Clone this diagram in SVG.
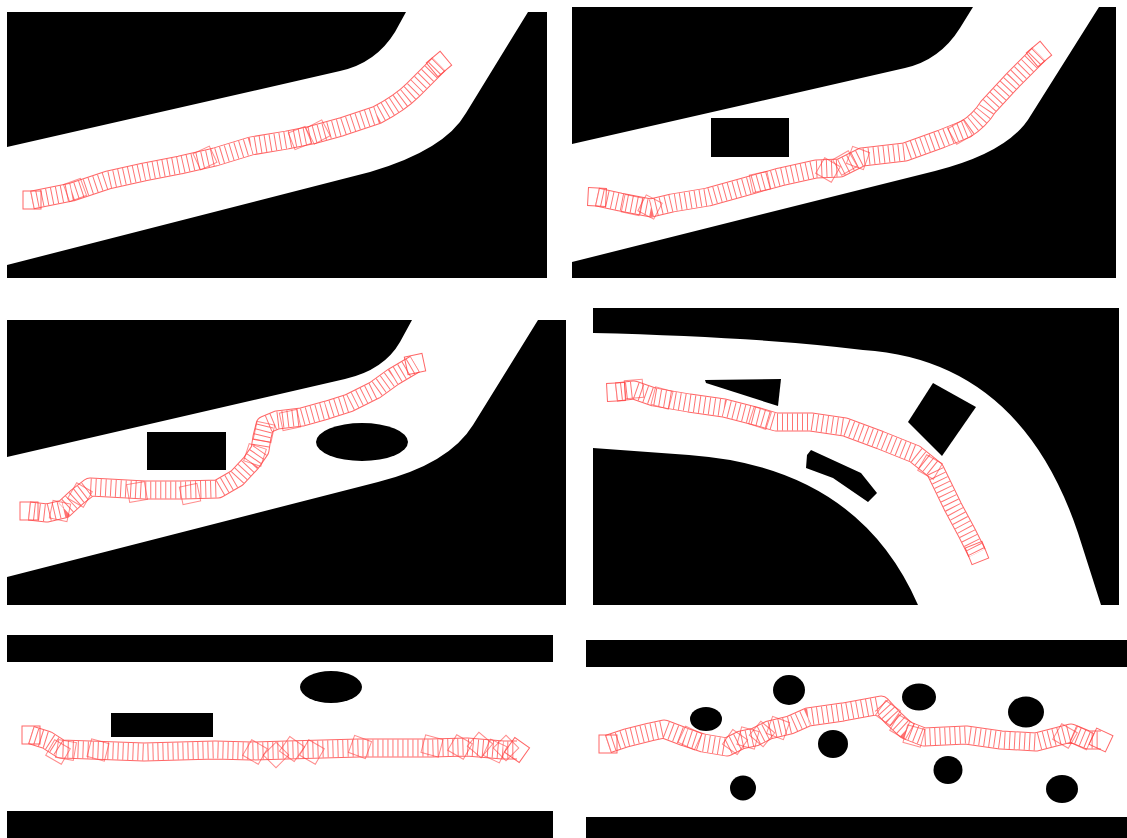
<svg xmlns="http://www.w3.org/2000/svg" width="1127" height="838" viewBox="0 0 1127 838">
<style>
.bg{fill:#000}
.road{fill:#fff}
.ce{fill:none;stroke:#ff4040;stroke-width:19;stroke-linejoin:round;stroke-opacity:0.8}
.ci{fill:none;stroke:#fff;stroke-width:17;stroke-linejoin:round}
.cr{fill:none;stroke:#ff5050;stroke-width:17;stroke-dasharray:1 4;stroke-opacity:0.8}
.sq{fill:none;stroke:#ff4040;stroke-width:1;stroke-opacity:0.8}
.jq{fill:none;stroke:#ff4040;stroke-width:1;stroke-opacity:0.6}
</style>
<defs>
<path id="p1" d="M32,200 L72,192 L108,180 L144,172 L180,165 L215,157 L251,146 L287,140 L312,135 L341,127 L377,115 Q400,103 413,90 L439,64"/>
<path id="p2" d="M597,197 L620,202 L651,208 L672,203 L708,197 L744,187 L780,177 L816,169 L840,168 L862,157 L905,152 L941,139 L966,129 Q980,120 988,107 L1013,80 L1039,54"/>
<path id="p3" d="M29,511 L47,513 L64,509 L77,497 L90,487 L109,488 L145,490 L182,490 L218,489 L237,478 L251,463 L260,450 L262,437 L265,425 L277,420 L302,417 L327,410 L349,403 L375,390 L393,377 L415,364"/>
<path id="p4" d="M616,392 L634,390 L654,397 L689,403 L724,408 L759,417 L776,422 L811,422 L845,427 L880,440 L915,454 L935,470 L953,507 L967,533 L977,553"/>
<path id="p5" d="M31,735 L47,740 L61,749 L90,750 L144,752 L215,750 L251,751 L287,750 L359,748 L395,748 L431,748 L467,747 L503,750 L517,750"/>
<path id="p6" d="M608,744 L626,738 L650,732 L664,729 L685,737 L703,743 L727,747 L741,740 L755,737 L769,730 L790,725 L808,717 L843,712 L881,705 L892,717 L906,730 L924,737 L966,735 L1001,740 L1036,742 L1071,733 L1088,740 L1101,740"/>
<rect id="s" x="-9" y="-9" width="18" height="18"/>
</defs>
<rect width="1127" height="838" fill="#fff"/>

<g id="panel1">
<rect class="bg" x="7" y="12" width="540" height="266"/>
<path class="road" d="M7,147 L340,71 Q376,63 395,32 L406,12 L528,12 L466,113 Q445,150 370,172 L7,265 Z"/>
<g id="chain1">
<use href="#p1" class="ce"/><use href="#p1" class="ci"/><use href="#p1" class="cr"/>
<use href="#s" class="sq" transform="translate(32,200)"/>
<use href="#s" class="sq" transform="translate(439,64) rotate(-40)"/>
<use href="#s" class="jq" transform="translate(75,190) rotate(-20)"/>
<use href="#s" class="jq" transform="translate(205,158) rotate(-25)"/>
<use href="#s" class="jq" transform="translate(300,138) rotate(-22)"/>
<use href="#s" class="jq" transform="translate(318,132) rotate(-28)"/>
</g>
</g>

<g id="panel2">
<rect class="bg" x="572" y="7" width="544" height="271"/>
<path class="road" d="M572,144 L905,68 Q940,60 960,28 L973,7 L1099,7 L1031,115 Q1010,152 935,171 L572,262 Z"/>
<rect class="bg" x="711" y="118" width="78" height="39"/>
<g id="chain2">
<use href="#p2" class="ce"/><use href="#p2" class="ci"/><use href="#p2" class="cr"/>
<use href="#s" class="sq" transform="translate(597,197) rotate(3)"/>
<use href="#s" class="sq" transform="translate(1039,54) rotate(-40)"/>
<use href="#s" class="jq" transform="translate(632,205) rotate(12)"/>
<use href="#s" class="jq" transform="translate(650,207) rotate(28)"/>
<use href="#s" class="jq" transform="translate(760,182) rotate(-12)"/>
<use href="#s" class="jq" transform="translate(828,170) rotate(30)"/>
<use href="#s" class="jq" transform="translate(845,163) rotate(-30)"/>
<use href="#s" class="jq" transform="translate(858,158) rotate(20)"/>
<use href="#s" class="jq" transform="translate(960,132) rotate(-30)"/>
</g>
</g>

<g id="panel3">
<rect class="bg" x="7" y="320" width="559" height="285"/>
<path class="road" d="M7,457 L345,379 Q384,370 400,342 L412,320 L538,320 L473,425 Q449,464 378,482 L7,577 Z"/>
<rect class="bg" x="147" y="432" width="79" height="38"/>
<ellipse class="bg" cx="362" cy="442" rx="46" ry="19"/>
<g id="chain3">
<use href="#p3" class="ce"/><use href="#p3" class="ci"/><use href="#p3" class="cr"/>
<use href="#s" class="sq" transform="translate(29,511)"/>
<use href="#s" class="sq" transform="translate(415,364) rotate(-12)"/>
<use href="#s" class="jq" transform="translate(60,511) rotate(12)"/>
<use href="#s" class="jq" transform="translate(80,495) rotate(30)"/>
<use href="#s" class="jq" transform="translate(137,492) rotate(-10)"/>
<use href="#s" class="jq" transform="translate(190,494) rotate(-12)"/>
<use href="#s" class="jq" transform="translate(255,455) rotate(18)"/>
<use href="#s" class="jq" transform="translate(264,432) rotate(12)"/>
<use href="#s" class="jq" transform="translate(290,420) rotate(-12)"/>
</g>
</g>

<g id="panel4">
<rect class="bg" x="593" y="308" width="526" height="297"/>
<path class="road" d="M593,333 Q760,337 863,350 Q1020,360 1078,533 L1101,605 L918,605 Q858,467 689,455 L593,448 Z"/>
<polygon class="bg" points="705,380 781,379 778,406 706,383"/>
<polygon class="bg" points="933,383 976,407 942,456 908,422"/>
<polygon class="bg" points="811,450 861,473 877,493 868,502 833,478 806,468 807,455"/>
<g id="chain4">
<use href="#p4" class="ce"/><use href="#p4" class="ci"/><use href="#p4" class="cr"/>
<use href="#s" class="sq" transform="translate(616,392) rotate(-3)"/>
<use href="#s" class="sq" transform="translate(977,553) rotate(-22)"/>
<use href="#s" class="jq" transform="translate(634,389) rotate(-5)"/>
<use href="#s" class="jq" transform="translate(662,398) rotate(15)"/>
<use href="#s" class="jq" transform="translate(760,418) rotate(18)"/>
<use href="#s" class="jq" transform="translate(930,467) rotate(30)"/>
</g>
</g>

<g id="panel5">
<rect class="bg" x="7" y="635" width="546" height="27"/>
<rect class="bg" x="7" y="811" width="546" height="27"/>
<rect class="bg" x="111" y="713" width="102" height="24"/>
<ellipse class="bg" cx="331" cy="687" rx="31" ry="16"/>
<g id="chain5">
<use href="#p5" class="ce"/><use href="#p5" class="ci"/><use href="#p5" class="cr"/>
<use href="#s" class="sq" transform="translate(31,735)"/>
<use href="#s" class="sq" transform="translate(517,750) rotate(35)"/>
<use href="#s" class="jq" transform="translate(58,752) rotate(30)"/>
<use href="#s" class="jq" transform="translate(66,750) rotate(10)"/>
<use href="#s" class="jq" transform="translate(98,750) rotate(15)"/>
<use href="#s" class="jq" transform="translate(255,752) rotate(30)"/>
<use href="#s" class="jq" transform="translate(276,755) rotate(45)"/>
<use href="#s" class="jq" transform="translate(292,749) rotate(35)"/>
<use href="#s" class="jq" transform="translate(312,752) rotate(30)"/>
<use href="#s" class="jq" transform="translate(360,747) rotate(20)"/>
<use href="#s" class="jq" transform="translate(432,746) rotate(15)"/>
<use href="#s" class="jq" transform="translate(460,747) rotate(30)"/>
<use href="#s" class="jq" transform="translate(480,745) rotate(40)"/>
<use href="#s" class="jq" transform="translate(495,751) rotate(25)"/>
<use href="#s" class="jq" transform="translate(506,748) rotate(45)"/>
</g>
</g>

<g id="panel6">
<rect class="bg" x="586" y="640" width="541" height="27"/>
<rect class="bg" x="586" y="817" width="541" height="21"/>
<ellipse class="bg" cx="706" cy="719" rx="16" ry="12"/>
<ellipse class="bg" cx="789" cy="690" rx="16" ry="15"/>
<ellipse class="bg" cx="833" cy="744" rx="15" ry="14"/>
<ellipse class="bg" cx="743" cy="788" rx="13" ry="12.5"/>
<ellipse class="bg" cx="919" cy="697" rx="17" ry="13.5"/>
<ellipse class="bg" cx="948" cy="770" rx="14.5" ry="14"/>
<ellipse class="bg" cx="1026" cy="712" rx="18" ry="15.5"/>
<ellipse class="bg" cx="1062" cy="789" rx="16" ry="14"/>
<g id="chain6">
<use href="#p6" class="ce"/><use href="#p6" class="ci"/><use href="#p6" class="cr"/>
<use href="#s" class="sq" transform="translate(608,744)"/>
<use href="#s" class="sq" transform="translate(1101,740) rotate(25)"/>
<use href="#s" class="jq" transform="translate(690,738) rotate(25)"/>
<use href="#s" class="jq" transform="translate(735,742) rotate(35)"/>
<use href="#s" class="jq" transform="translate(748,738) rotate(15)"/>
<use href="#s" class="jq" transform="translate(762,734) rotate(40)"/>
<use href="#s" class="jq" transform="translate(778,728) rotate(20)"/>
<use href="#s" class="jq" transform="translate(888,713) rotate(35)"/>
<use href="#s" class="jq" transform="translate(902,727) rotate(30)"/>
<use href="#s" class="jq" transform="translate(914,736) rotate(15)"/>
<use href="#s" class="jq" transform="translate(1065,736) rotate(30)"/>
<use href="#s" class="jq" transform="translate(1082,738) rotate(25)"/>
</g>
</g>
</svg>
